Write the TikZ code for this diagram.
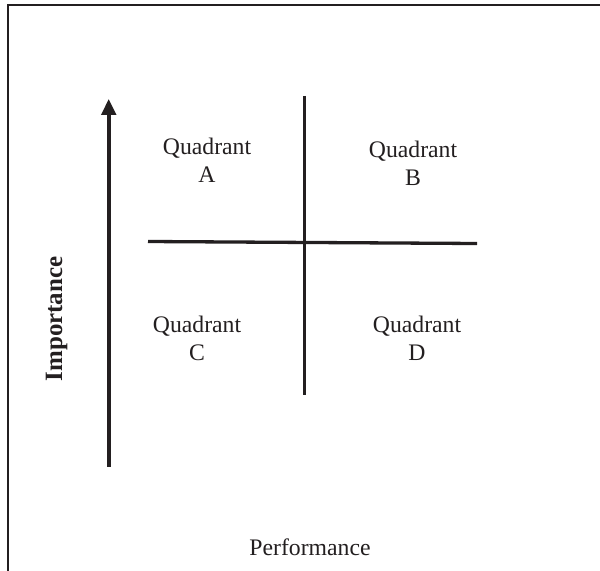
\documentclass[tikz,border=0pt]{standalone}
\usepackage{fontspec}
\setmainfont{Liberation Serif}
\usetikzlibrary{arrows.meta}
\definecolor{ink}{HTML}{231F20}
\tikzset{
  frameline/.style={draw=ink, line width=2bp},
  axisline/.style={draw=ink, line width=3.3bp},
  quadlabel/.style={text=ink, align=center, inner sep=0pt, anchor=base,
    font=\fontsize{23.8}{27.8}\selectfont},
  axislabel/.style={text=ink, inner sep=0pt, anchor=base,
    font=\fontsize{23.8}{27.8}\selectfont}
}
\begin{document}
\begin{tikzpicture}[x=1bp,y=-1bp]
\useasboundingbox (0,0) rectangle (600,571);
\fill[white] (0,0) rectangle (600,571);
\draw[frameline] (8.3,575) -- (8.3,5.5) -- (605,5.5);
% axis arrow
\coordinate (arrowfoot) at (108.7,466.5);
\coordinate (arrowtip) at (108.7,99);
\draw[axisline, line width=3.6bp, -{Triangle[length=16bp,width=14.5bp]}] (arrowfoot) -- (arrowtip);
% cross
\coordinate (vtop) at (304.5,96);
\coordinate (vbot) at (304.5,395);
\coordinate (hleft) at (148,241.5);
\coordinate (hright) at (477,243.5);
\draw[axisline] (vtop) -- (vbot);
\draw[axisline] (hleft) -- (hright);
% labels (anchor = baseline of the last line)
\node[quadlabel] (qa) at (207,182) {Quadrant\\A};
\node[quadlabel] (qb) at (413,185) {Quadrant\\B};
\node[quadlabel] (qc) at (197,360) {Quadrant\\C};
\node[quadlabel] (qd) at (417,360) {Quadrant\\D};
\node[axislabel, font=\fontsize{25}{28}\selectfont\bfseries, rotate=90] (imp) at (62,319) {Importance};
\node[axislabel] (perf) at (310,555) {Performance};
\end{tikzpicture}
\end{document}
